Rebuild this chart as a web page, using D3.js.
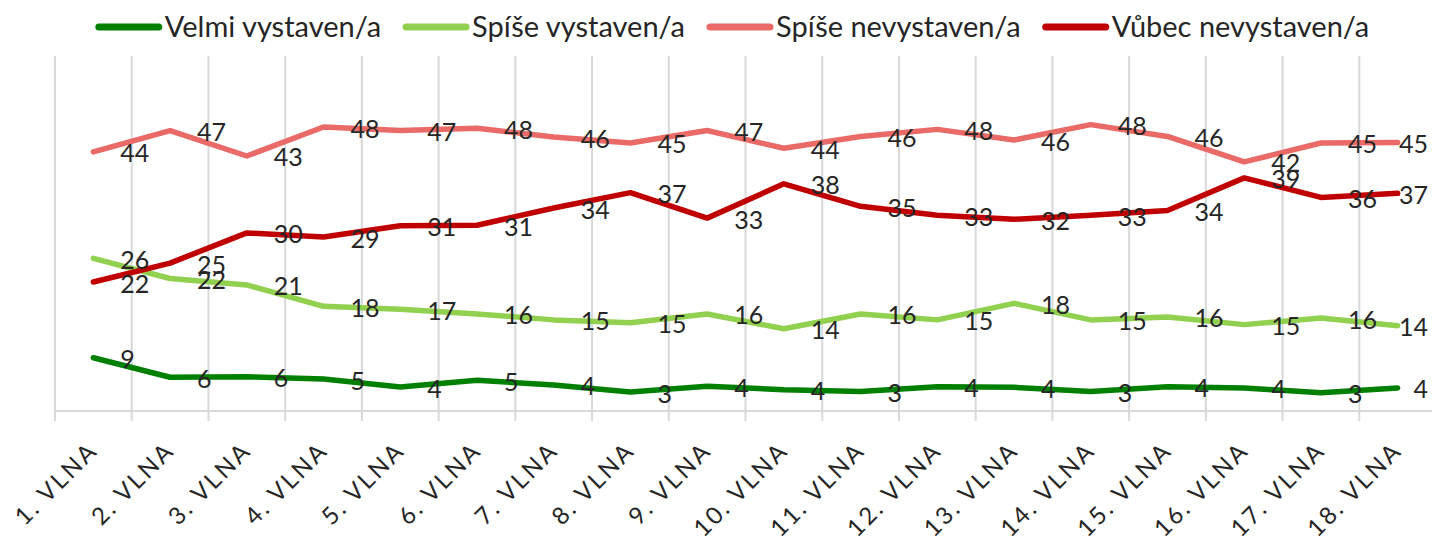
<!DOCTYPE html>
<html>
<head>
<meta charset="utf-8">
<script src="https://cdn.jsdelivr.net/npm/d3@7"></script>
<style>
  body { margin: 0; background: #fff; }
  text { font-family: Lato, "Open Sans", sans-serif; fill: #262626; }
</style>
</head>
<body>
<svg id="chart" width="1432" height="540"></svg>
<script>
const waves = ['1. VLNA', '2. VLNA', '3. VLNA', '4. VLNA', '5. VLNA', '6. VLNA',
  '7. VLNA', '8. VLNA', '9. VLNA', '10. VLNA', '11. VLNA', '12. VLNA',
  '13. VLNA', '14. VLNA', '15. VLNA', '16. VLNA', '17. VLNA', '18. VLNA'];

// values (labels show them rounded)
const velmiVystaven = [9.0, 5.7, 5.8, 5.4, 4.05, 5.2, 4.4, 3.2, 4.2, 3.6, 3.3, 4.1, 4.0, 3.3, 4.1, 3.9, 3.1, 3.9];
const spiseVystaven = [25.8, 22.4, 21.3, 17.7, 17.2, 16.4, 15.4, 14.9, 16.4, 13.9, 16.4, 15.4, 18.2, 15.4, 15.9, 14.6, 15.7, 14.4];
const spiseNevystaven = [43.8, 47.4, 43.1, 48.0, 47.4, 47.8, 46.3, 45.3, 47.4, 44.4, 46.4, 47.6, 45.8, 48.4, 46.4, 42.1, 45.3, 45.4];
const vubecNevystaven = [21.8, 25.0, 30.1, 29.4, 31.3, 31.4, 34.3, 36.9, 32.6, 38.4, 34.6, 33.1, 32.4, 33.1, 33.9, 39.4, 36.1, 36.8];

const seriesNames = ['Velmi vystaven/a', 'Spíše vystaven/a', 'Spíše nevystaven/a', 'Vůbec nevystaven/a'];
const seriesColors = ['#008000', '#92d050', '#e96a67', '#c00000'];
const series = [velmiVystaven, spiseVystaven, spiseNevystaven, vubecNevystaven]
  .map((values, i) => ({ name: seriesNames[i], color: seriesColors[i], values }));

const [w, h] = [1432, 540];
const plot = { left: 55, right: 1436, top: 56, bottom: 411 };
const gridColor = '#d9d9d9';

const x = d3.scaleBand().domain(waves).range([plot.left, plot.right]);
const bw = x.bandwidth();
const cx = c => x(c) + bw / 2;
const y = d3.scaleLinear().domain([0, 60]).range([plot.bottom, plot.top]);

const svg = d3.select('#chart');

// vertical gridlines at the category boundaries
svg.append('g')
  .selectAll('line')
  .data(waves.map(c => x(c)).concat(plot.right))
  .enter()
  .append('line')
  .attr('x1', d => d).attr('x2', d => d)
  .attr('y1', plot.top).attr('y2', plot.bottom + 10)
  .attr('stroke', gridColor)
  .attr('stroke-width', 2);

svg.append('line')
  .attr('x1', plot.left).attr('x2', plot.right)
  .attr('y1', plot.bottom).attr('y2', plot.bottom)
  .attr('stroke', gridColor)
  .attr('stroke-width', 2);

// category labels
const xAxis = svg.append('g')
  .attr('transform', `translate(0, ${plot.bottom + 35})`)
  .call(d3.axisBottom(x).tickSize(0));
xAxis.select('.domain').remove();
xAxis.selectAll('text')
  .attr('x', 0).attr('y', 0).attr('dy', '0.35em')
  .attr('transform', 'rotate(-45)')
  .style('text-anchor', 'end')
  .style('font-size', '24px')
  .style('letter-spacing', '2.5px')
  .attr('fill', '#262626');

// lines
const line = d3.line()
  .x((d, i) => cx(waves[i]))
  .y(d => y(d));

svg.append('g')
  .selectAll('path')
  .data(series)
  .enter()
  .append('path')
  .attr('d', s => line(s.values))
  .attr('fill', 'none')
  .attr('stroke', s => s.color)
  .attr('stroke-width', 5.5)
  .attr('stroke-linejoin', 'round')
  .attr('stroke-linecap', 'round');

// data labels, to the right of each point
const fmt = d3.format('.0f');
const labels = svg.append('g');
series.forEach(s => {
  labels.selectAll(null)
    .data(s.values)
    .enter()
    .append('text')
    .attr('x', (d, i) => cx(waves[i]) + 27)
    .attr('y', d => y(d) + 10.5)
    .style('font-size', '25px')
    .text(d => fmt(d));
});
labels.selectAll('text').each(function () {
  const t = d3.select(this);
  const tw = this.getComputedTextLength();
  if (+t.attr('x') + tw > w - 4) t.attr('x', w - 4 - tw);
});

// legend
const legend = svg.append('g');
let lx = 0;
series.forEach(s => {
  const g = legend.append('g').attr('transform', `translate(${lx}, 0)`);
  g.append('line')
    .attr('x1', 3).attr('x2', 63)
    .attr('y1', 27).attr('y2', 27)
    .attr('stroke', s.color)
    .attr('stroke-width', 7)
    .attr('stroke-linecap', 'round');
  const t = g.append('text')
    .attr('x', 69).attr('y', 37)
    .style('font-size', '29px')
    .text(s.name);
  lx += 69 + t.node().getComputedTextLength() + 22;
});
const legendW = lx - 22;
legend.attr('transform', `translate(${(87 + 1378) / 2 - legendW / 2}, 0)`);
</script>
</body>
</html>
